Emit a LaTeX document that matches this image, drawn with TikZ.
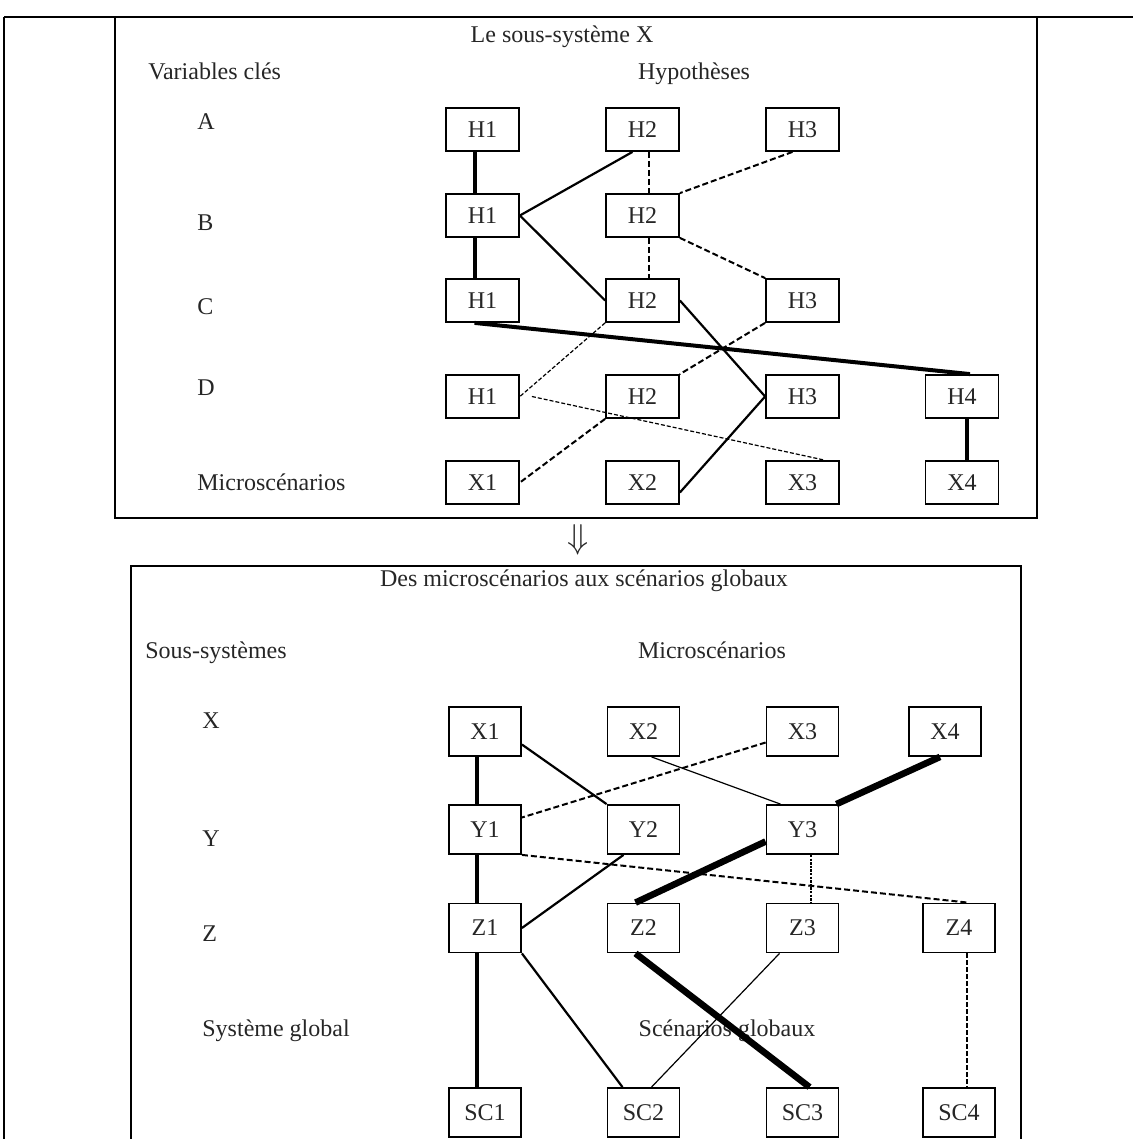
\documentclass[tikz,border=0pt]{standalone}
\usepackage{fontspec}
\setmainfont{Liberation Serif}
\usetikzlibrary{calc}
\begin{document}
\begin{tikzpicture}[x=0.5pt,y=-0.5pt,
  txt/.style={inner sep=0pt, text=black!85, font=\fontsize{12}{14}\selectfont},
  box/.style={txt, draw=black, line width=0.9pt, minimum width=36.5pt, minimum height=21.5pt},
  bbox/.style={box, minimum width=36pt, minimum height=24.5pt},
  lbl/.style={txt, anchor=base west},
  clbl/.style={txt, anchor=base},
  thk/.style={line width=2pt},
  med/.style={line width=1.1pt},
  vthk/.style={line width=3.3pt},
  thin/.style={line width=0.6pt},
  dsh/.style={line width=1pt, dash pattern=on 3pt off 1.5pt},
  fdsh/.style={line width=0.6pt, dash pattern=on 2pt off 1pt},
  vdsh/.style={line width=0.9pt, dash pattern=on 2.5pt off 1pt},
  dotl/.style={line width=1pt, dash pattern=on 1.2pt off 0.6pt},
  frame/.style={line width=1pt}]
\useasboundingbox (0,0) rectangle (1133,1139);
% outer frame and panels
\draw[line width=1.4pt] (4,17) -- (1133,17);
\draw[frame] (4,17) -- (4,1139);
\draw[frame] (115,17) -- (115,518) -- (1037,518) -- (1037,17);
\draw[frame] (131,1139) -- (131,566) -- (1021,566) -- (1021,1139);
\node[txt] (arr) at (578,540) {\fontsize{18}{18}\selectfont$\Downarrow$};
% top panel texts
\node[clbl] (t1) at (562,43) {Le sous-système X};
\node[lbl] (t2) at (148,80) {Variables clés};
\node[clbl] (t3) at (694,80) {Hypothèses};
\node[lbl] (la) at (197,130) {A};
\node[lbl] (lb) at (197,231) {B};
\node[lbl] (lc) at (197,314) {C};
\node[lbl] (ld) at (197,395) {D};
\node[lbl] (lm) at (197,490) {Microscénarios};
% top panel boxes
\node[box] (a1) at (482.5,129.5) {H1};
\node[box] (a2) at (642.5,129.5) {H2};
\node[box] (a3) at (802.5,129.5) {H3};
\node[box] (b1) at (482.5,215.5) {H1};
\node[box] (b2) at (642.5,215.5) {H2};
\node[box] (c1) at (482.5,300.5) {H1};
\node[box] (c2) at (642.5,300.5) {H2};
\node[box] (c3) at (802.5,300.5) {H3};
\node[box] (d1) at (482.5,396.5) {H1};
\node[box] (d2) at (642.5,396.5) {H2};
\node[box] (d3) at (802.5,396.5) {H3};
\node[box] (d4) at (962,396.5) {H4};
\node[box] (x1) at (482.5,482.5) {X1};
\node[box] (x2) at (642.5,482.5) {X2};
\node[box] (x3) at (802.5,482.5) {X3};
\node[box] (x4) at (962,482.5) {X4};
% top connectors
\draw[thk] ($(a1.south)+(-8,0)$) -- ($(b1.north)+(-8,0)$);
\draw[thk] ($(b1.south)+(-8,0)$) -- ($(c1.north)+(-8,0)$);
\draw[med] ($(a2.south)+(-10,0)$) -- (b1.east);
\draw[dsh] ($(a2.south)+(6,0)$) -- ($(b2.north)+(6,0)$);
\draw[dsh] ($(a3.south)+(-10,0)$) -- (b2.north east);
\draw[med] (b1.east) -- (c2.west);
\draw[dsh] ($(b2.south)+(6,0)$) -- ($(c2.north)+(6,0)$);
\draw[dsh] (b2.south east) -- (c3.north west);
\draw[thk] ($(c1.south)+(-8,0)$) -- ($(d4.north)+(8,0)$);
\draw[fdsh] (c2.south west) -- (d1.east);
\draw[med] (c2.east) -- (d3.west);
\draw[dsh] (c3.south west) -- (d2.north east);
\draw[fdsh] ($(d1.east)+(12,0)$) -- ($(x3.north)+(22,0)$);
\draw[dsh] (d2.south west) -- (x1.east);
\draw[med] (d3.west) -- ($(x2.east)+(0,10)$);
\draw[thk] ($(d4.south)+(5,0)$) -- ($(x4.north)+(5,0)$);
% bottom panel texts
\node[clbl] (u1) at (584,586) {Des microscénarios aux scénarios globaux};
\node[lbl] (u2) at (145,658) {Sous-systèmes};
\node[clbl] (u3) at (712,658) {Microscénarios};
\node[lbl] (lx) at (202,728) {X};
\node[lbl] (ly) at (202,846) {Y};
\node[lbl] (lz) at (202,941) {Z};
\node[lbl] (u4) at (202,1036) {Système global};
\node[clbl] (u5) at (727,1036) {Scénarios globaux};
% bottom panel boxes
\node[bbox] (bx1) at (485,731.5) {X1};
\node[bbox] (bx2) at (643.5,731.5) {X2};
\node[bbox] (bx3) at (802.5,731.5) {X3};
\node[bbox] (bx4) at (945,731.5) {X4};
\node[bbox] (by1) at (485,829.5) {Y1};
\node[bbox] (by2) at (643.5,829.5) {Y2};
\node[bbox] (by3) at (802.5,829.5) {Y3};
\node[bbox] (bz1) at (485,928) {Z1};
\node[bbox] (bz2) at (643.5,928) {Z2};
\node[bbox] (bz3) at (802.5,928) {Z3};
\node[bbox] (bz4) at (959,928) {Z4};
\node[bbox] (sc1) at (485,1112.5) {SC1};
\node[bbox] (sc2) at (643.5,1112.5) {SC2};
\node[bbox] (sc3) at (802.5,1112.5) {SC3};
\node[bbox] (sc4) at (959,1112.5) {SC4};
% bottom connectors
\draw[thk] ($(bx1.south)+(-8,0)$) -- ($(by1.north)+(-8,0)$);
\draw[thk] ($(by1.south)+(-8,0)$) -- ($(bz1.north)+(-8,0)$);
\draw[thk] ($(bz1.south)+(-8,0)$) -- ($(sc1.north)+(-8,0)$);
\draw[med] ($(bx1.east)+(0,13)$) -- (by2.north west);
\draw[dsh] ($(bx3.west)+(0,11)$) -- ($(by1.east)+(0,-12)$);
\draw[thin] ($(bx2.south)+(8,0)$) -- ($(by3.north)+(-22,0)$);
\draw[vthk] ($(bx4.south)+(-5,0)$) -- ($(by3.north east)+(-3,0)$);
\draw[med] ($(by2.south)+(-20,0)$) -- (bz1.east);
\draw[dsh] (by1.south east) -- ($(bz4.north)+(9,0)$);
\draw[vthk] ($(by3.west)+(0,12)$) -- ($(bz2.north)+(-8,0)$);
\draw[dotl] ($(by3.south)+(8,0)$) -- ($(bz3.north)+(8,0)$);
\draw[med] (bz1.south east) -- ($(sc2.north)+(-21,0)$);
\draw[vthk] ($(bz2.south)+(-8,0)$) -- ($(sc3.north)+(7,0)$);
\draw[thin] ($(bz3.south)+(-23,0)$) -- ($(sc2.north)+(8,0)$);
\draw[vdsh] ($(bz4.south)+(8,0)$) -- ($(sc4.north)+(8,0)$);
\end{tikzpicture}
\end{document}
